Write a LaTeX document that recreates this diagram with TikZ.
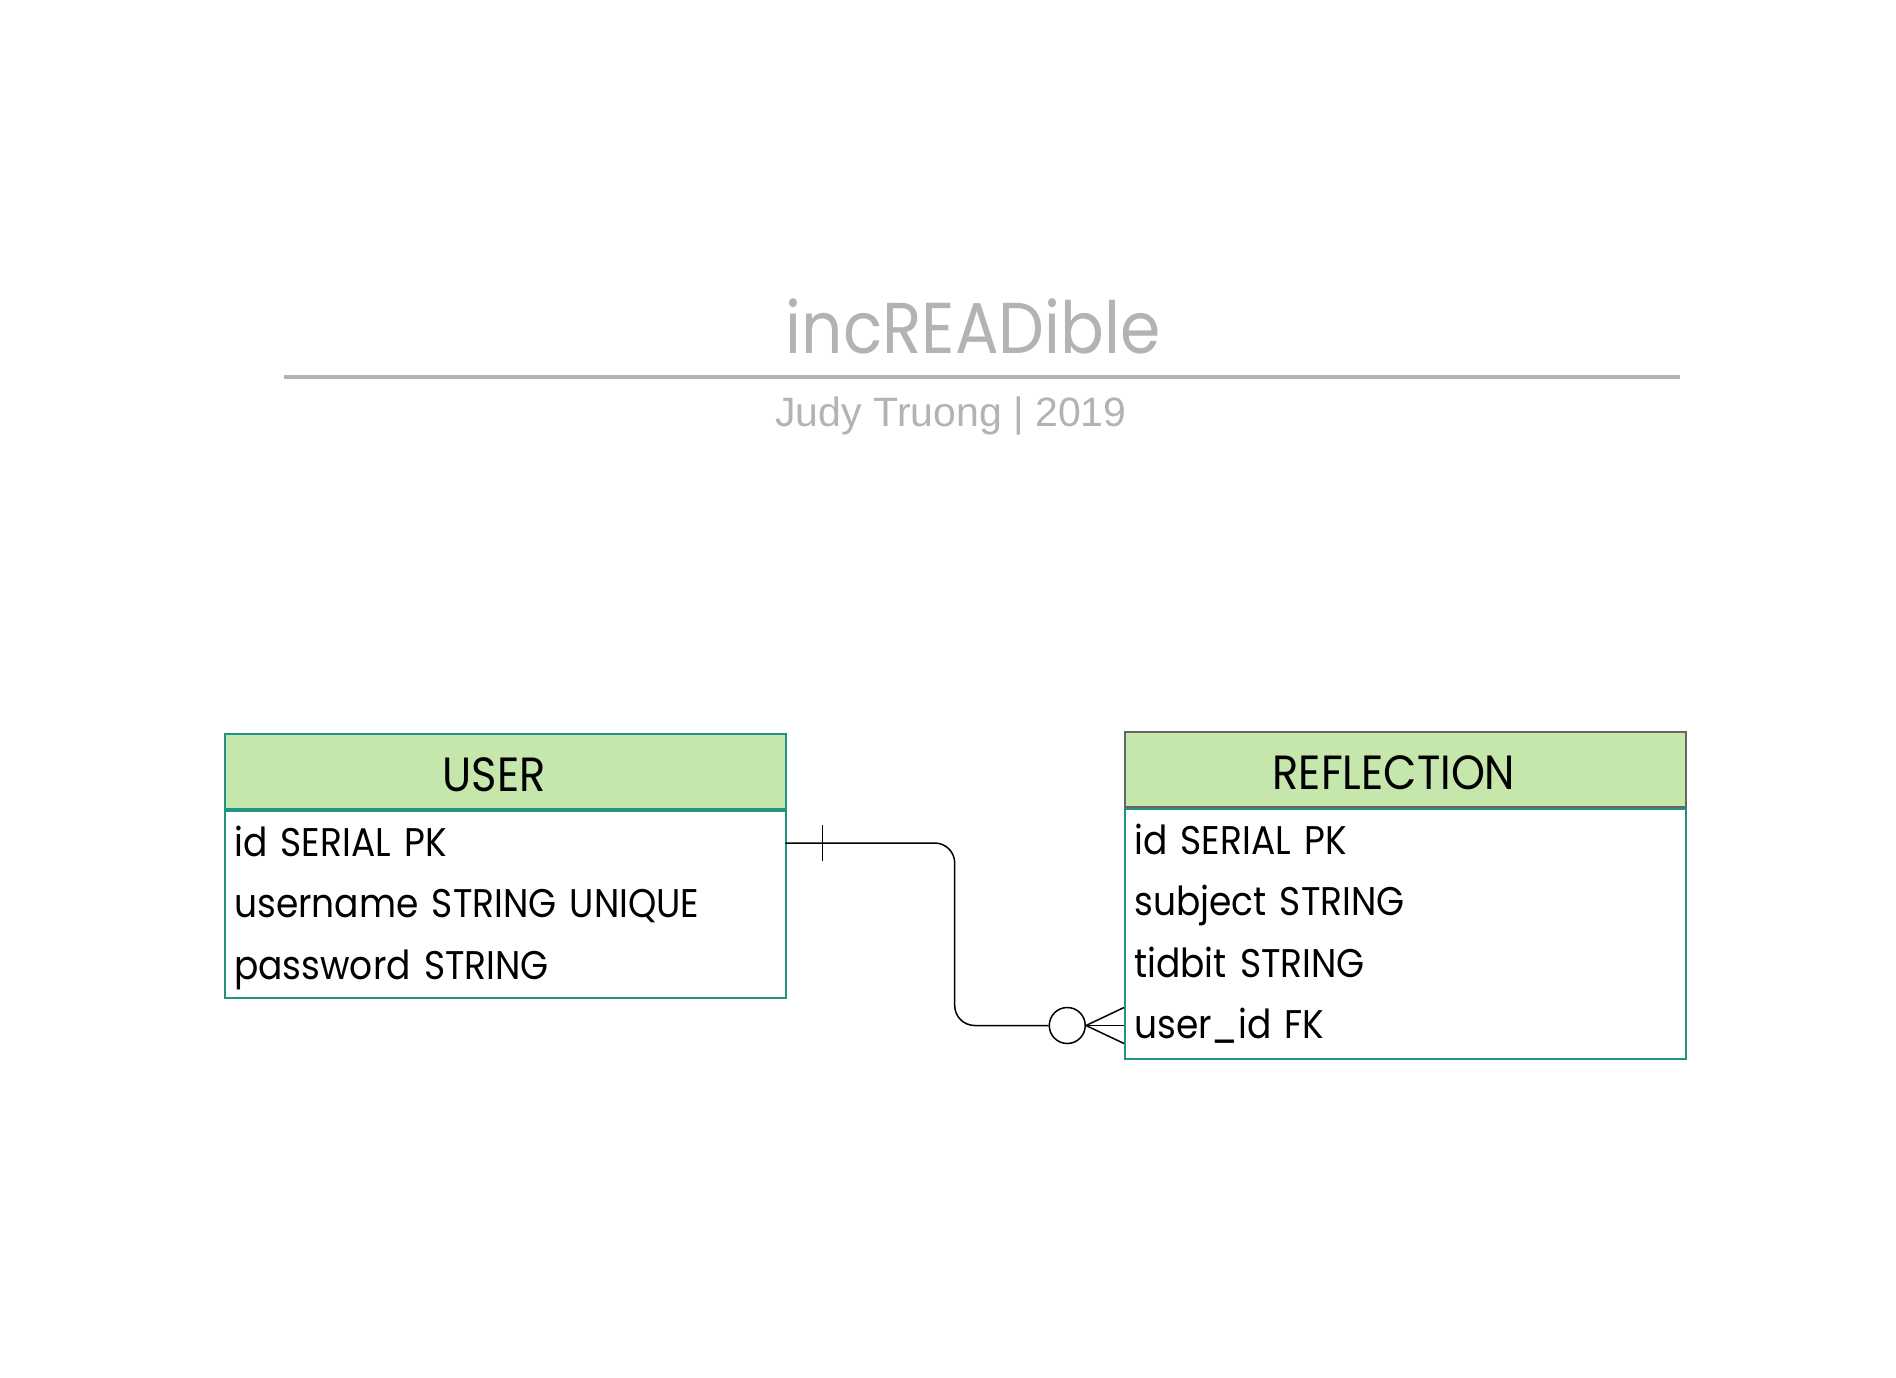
\documentclass[tikz,border=0pt]{standalone}
\usepackage{fontspec}
\setmainfont{Poppins}[FakeStretch=0.9]
\newfontfamily\bylinefont{Liberation Sans}
\usepackage{tikz}
\usetikzlibrary{scopes,calc,positioning}

\definecolor{erhead}{HTML}{C6E7AC}
\definecolor{erteal}{HTML}{21947F}
\definecolor{ergray}{HTML}{666666}
\definecolor{titlegray}{HTML}{B3B3B3}

\begin{document}
\begin{tikzpicture}[
    x=1pt, y=-1pt,
    title/.style={text=titlegray,font=\fontsize{72}{80}\selectfont,anchor=base},
    byline/.style={text=titlegray,font=\bylinefont\fontsize{41}{48}\selectfont,anchor=base},
    rule/.style={draw=titlegray,line width=4pt},
    head/.style={rectangle,draw=erteal,fill=erhead,line width=2pt,minimum width=561pt,minimum height=75pt,inner sep=0pt,
        text height=39pt,text depth=0pt,font=\fontsize{48}{54}\selectfont,execute at end node={\hspace{23pt}}},
    body/.style={rectangle,draw=erteal,line width=2pt,minimum width=561pt,anchor=north,inner sep=0pt},
    field/.style={anchor=base west,text width=541pt,align=left,inner xsep=10pt,inner ysep=0pt,text height=30pt,text depth=4pt,font=\fontsize{40}{46}\selectfont},
    rel/.style={draw=black,line width=1.5pt},
]
\useasboundingbox (0,0) rectangle (1896,1378);

%%%
% Title block
\node[title] (title) at (973,353) {incREADible};
\draw[rule] (284,377) -- (1680,377);
\node[byline] (byline) at (951,426.5) {Judy Truong | 2019};

%%%
% USER table
\node[head] (user-head) at (505.5,771.5) {USER};
\node[body,minimum height=187pt] (user-body) at (user-head.south) {};
\node[field] (user-id) at ([yshift=-46pt]user-head.south west) {id SERIAL PK};
\node[field] (user-name) at ([yshift=-61.5pt]user-id.base west) {username STRING UNIQUE};
\node[field] (user-pw) at ([yshift=-61.5pt]user-name.base west) {password STRING};

%%%
% REFLECTION table
\node[head,draw=ergray] (refl-head) at (1405.5,769.5) {REFLECTION};
\node[body,minimum height=250pt] (refl-body) at (refl-head.south) {};
\node[field] (refl-id) at ([yshift=-46pt]refl-head.south west) {id SERIAL PK};
\node[field] (refl-subj) at ([yshift=-61.5pt]refl-id.base west) {subject STRING};
\node[field] (refl-tid) at ([yshift=-61.5pt]refl-subj.base west) {tidbit STRING};
\node[field] (refl-uid) at ([yshift=-61.5pt]refl-tid.base west) {user\_id FK};

%%%
% one user -- many reflections
\node[circle,draw,line width=1.5pt,minimum size=36pt,inner sep=0pt,left=38pt of refl-uid.west] (zero) {};
\coordinate (bend) at ($(user-id.east)!.5!(refl-uid.west)$);
{[rel]
    \draw[rounded corners=20pt] (user-id.east) -| (bend) |- (zero.west);
    \draw ([xshift=37pt,yshift=18pt]user-id.east) -- ([xshift=37pt,yshift=-18pt]user-id.east);
    \draw (zero.east) -- ([yshift=18pt]refl-uid.west);
    \draw (zero.east) -- (refl-uid.west);
    \draw (zero.east) -- ([yshift=-18pt]refl-uid.west);
}
\end{tikzpicture}
\end{document}
